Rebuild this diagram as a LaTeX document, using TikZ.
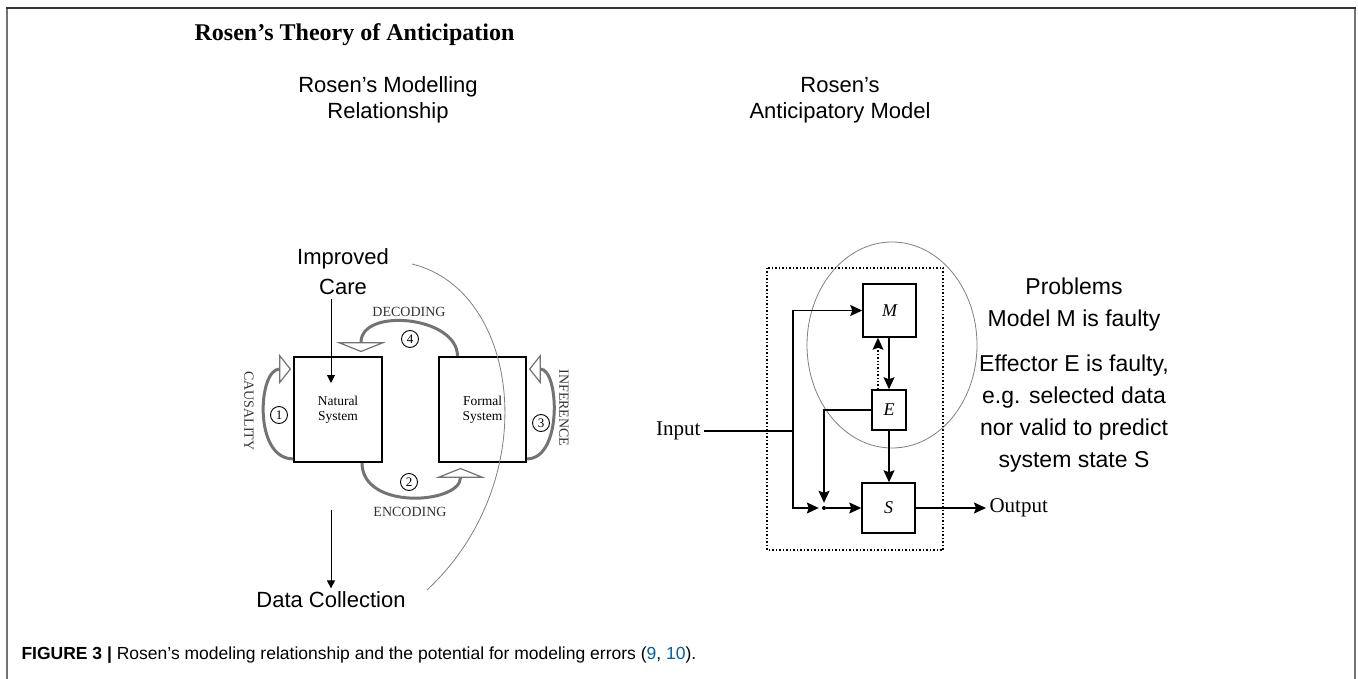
\documentclass[tikz,border=0pt]{standalone}
\usepackage{fontspec}
\setmainfont{Liberation Serif}
\setsansfont{Liberation Sans}
\usetikzlibrary{arrows.meta}
\definecolor{arcgray}{RGB}{115,115,115}
\definecolor{linkblue}{RGB}{0,94,170}

\begin{document}
\begin{tikzpicture}[x=1pt,y=-1pt,
    sys/.style={draw,line width=1.8pt,align=center,font=\fontsize{13.5}{15}\selectfont},
    blk/.style={draw,line width=1.5pt,font=\fontsize{18}{20}\selectfont\itshape},
    num/.style={circle,draw,line width=0.9pt,inner sep=0pt,minimum size=17pt,font=\fontsize{13}{14}\selectfont},
    lab/.style={font=\fontsize{14}{16}\selectfont,text=black!80},
    vlab/.style={font=\fontsize{14}{16}\selectfont,text=black!80,rotate=-90},
    big/.style={font=\sffamily\fontsize{22}{30}\selectfont,align=center},
    loop/.style={arcgray,line width=3pt,-{Triangle[length=10pt,width=50pt,fill=white,line width=1.2pt]}},
    sloop/.style={arcgray,line width=3pt,-{Triangle[length=12pt,width=30pt,fill=white,line width=1.2pt]}},
    flow/.style={line width=1.4pt,-{Stealth[length=12pt,width=11pt,inset=2pt]}}]
  \useasboundingbox (0,0) rectangle (1358,679);
  % frame
  \draw[black!55,line width=2pt] (7,679) -- (7,8);
  \draw[black!55,line width=2pt] (1355,679) -- (1355,8);
  \draw[black!80,line width=2pt] (6,8) -- (1356,8);
  % headings
  \node[font=\bfseries\fontsize{24}{28}\selectfont] (title) at (354.5,35) {Rosen’s Theory of Anticipation};
  \node[big,font=\sffamily\fontsize{22}{26}\selectfont] (h1) at (388,100) {Rosen’s Modelling\\Relationship};
  \node[big,font=\sffamily\fontsize{22}{26}\selectfont] (h2) at (840,100) {Rosen’s\\Anticipatory Model};

  % modelling relationship
  \node[sys,minimum width=88pt,minimum height=105pt] (ns) at (338,409.5) {Natural\\System};
  \node[sys,minimum width=87pt,minimum height=105pt] (fs) at (482.5,409.5) {Formal\\System};
  \node[big] (care) at (343,272) {Improved\\Care};
  \node[big] (data) at (331,600) {Data Collection};
  \coordinate (caretip) at (331,383);
  \coordinate (datatop) at (331,510);
  \draw[line width=0.9pt,-{Triangle[length=8pt,width=8pt]}] (care.south -| caretip) -- (caretip);
  \draw[line width=0.9pt,-{Triangle[length=8pt,width=8pt]}] (datatop) -- (data.north);

  \draw[loop] ([xshift=-25pt]fs.north) .. controls +(0,-40) and +(0,-45) .. ([xshift=23pt,yshift=4pt]ns.north);
  \draw[loop] ([xshift=24pt]ns.south) .. controls +(0,48) and +(0,36) .. ([xshift=-22pt,yshift=-5pt]fs.south);
  \draw[sloop] ([yshift=4pt]ns.south west) .. controls +(-40,0) and +(-33,0) .. ([xshift=-2pt,yshift=-13pt]ns.north west);
  \draw[sloop] ([yshift=4pt]fs.south east) .. controls +(36,0) and +(30,0) .. ([xshift=2pt,yshift=-13pt]fs.north east);

  \node[num] (n1) at (279,415) {1};
  \node[num] (n2) at (409,482) {2};
  \node[num] (n3) at (541,423) {3};
  \node[num] (n4) at (410,339) {4};
  \node[lab] (dec) at (409,312) {DECODING};
  \node[lab] (enc) at (410,512) {ENCODING};
  \node[vlab] (cau) at (249,411) {CAUSALITY};
  \node[vlab] (inf) at (564,408) {INFERENCE};

  \draw[black!50,line width=0.8pt] (412,264) .. controls (520,290) and (545,480) .. (427,590);

  % anticipatory model
  \draw[black!50,line width=0.8pt] (892,345) ellipse [x radius=85,y radius=103];
  \draw[line width=1.2pt,dash pattern=on 1.5pt off 2pt] (767,268) rectangle (943,550);
  \node[blk,minimum width=53pt,minimum height=53pt] (m) at (889.5,310.5) {M};
  \node[blk,minimum width=34pt,minimum height=40pt] (e) at (889,410) {E};
  \node[blk,minimum width=53pt,minimum height=50pt] (s) at (888.5,508) {S};
  \node[font=\fontsize{21}{24}\selectfont,anchor=east] (in) at (704,431) {Input};
  \node[font=\fontsize{21}{24}\selectfont,anchor=west] (out) at (986,508) {Output};
  \coordinate (split) at (793,431);
  \node[circle,fill,inner sep=0pt,minimum size=4pt] (join) at (824,508) {};
  \draw[line width=1.4pt] (in.east) -- (split);
  \draw[flow] (split) |- (m.west);
  \draw[flow,shorten >=3pt] (split) |- (join);
  \draw[flow] (join) -- (s.west);
  \draw[flow,shorten >=3pt] (e.west) -| (join);
  \draw[flow] (m.south -| e.north) -- (e.north);
  \draw[flow,dotted] ([xshift=-11pt]e.north) -- ([xshift=-11pt]e.north |- m.south);
  \draw[flow] (e.south) -- (e.south |- s.north);
  \draw[flow] (s.east) -- (out.west);

  \node[big,font=\sffamily\fontsize{23}{32}\selectfont] (prob) at (1074,375) {Problems\\Model M is faulty\\[13pt]Effector E is faulty,\\e.g. selected data\\nor valid to predict\\system state S};

  % caption
  \node[anchor=west,font=\sffamily\fontsize{17.5}{20}\selectfont] (cap) at (18,655) {\textbf{FIGURE 3 |} Rosen’s modeling relationship and the potential for modeling errors (\textcolor{linkblue}{9}, \textcolor{linkblue}{10}).};
\end{tikzpicture}
\end{document}
